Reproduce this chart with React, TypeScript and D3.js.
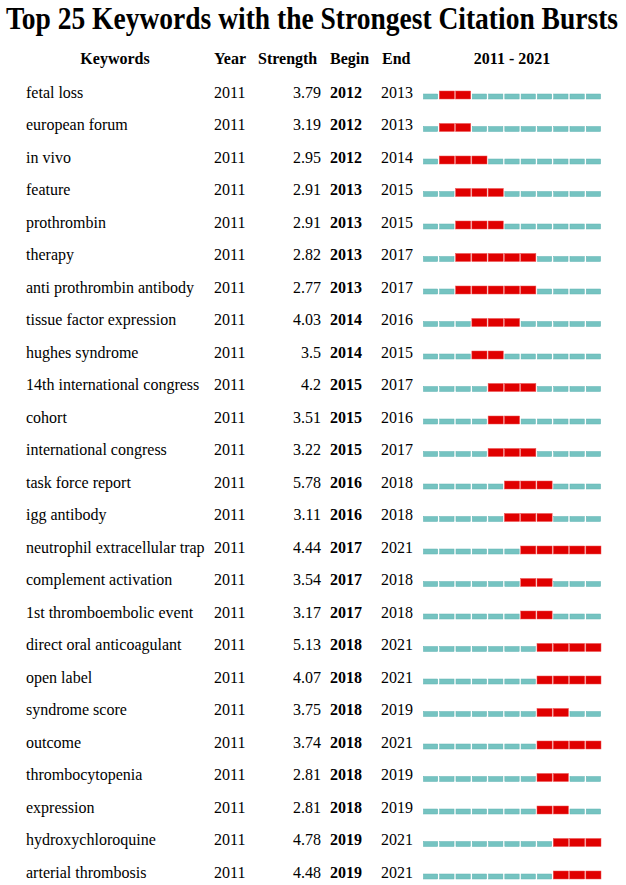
import React, { useEffect, useRef } from "react";
import * as d3 from "d3";

const keywords = [
  "fetal loss", "european forum", "in vivo", "feature", "prothrombin", "therapy",
  "anti prothrombin antibody", "tissue factor expression", "hughes syndrome",
  "14th international congress", "cohort", "international congress", "task force report",
  "igg antibody", "neutrophil extracellular trap", "complement activation",
  "1st thromboembolic event", "direct oral anticoagulant", "open label", "syndrome score",
  "outcome", "thrombocytopenia", "expression", "hydroxychloroquine", "arterial thrombosis",
];
const strength = [
  3.79, 3.19, 2.95, 2.91, 2.91, 2.82, 2.77, 4.03, 3.5, 4.2, 3.51, 3.22, 5.78,
  3.11, 4.44, 3.54, 3.17, 5.13, 4.07, 3.75, 3.74, 2.81, 2.81, 4.78, 4.48,
];
const begin = [
  2012, 2012, 2012, 2013, 2013, 2013, 2013, 2014, 2014, 2015, 2015, 2015, 2016,
  2016, 2017, 2017, 2017, 2018, 2018, 2018, 2018, 2018, 2018, 2019, 2019,
];
const end = [
  2013, 2013, 2014, 2015, 2015, 2017, 2017, 2016, 2015, 2017, 2016, 2017, 2018,
  2018, 2021, 2018, 2018, 2021, 2021, 2019, 2021, 2019, 2019, 2021, 2021,
];
const startYear = 2011;
const years = d3.range(2011, 2022);

export default function App() {
  const ref = useRef<SVGSVGElement>(null);

  useEffect(() => {
    const svg = d3.select(ref.current);
    svg.selectAll("*").remove();

    const font = "'Liberation Serif', 'Times New Roman', serif";

    // title, a bit taller than wide like the source image
    svg.append("g")
      .attr("transform", "translate(6,29) scale(1,1.12)")
      .append("text")
      .attr("x", 0)
      .attr("y", 0)
      .attr("textLength", 612)
      .attr("lengthAdjust", "spacingAndGlyphs")
      .style("font-family", font)
      .style("font-weight", "bold")
      .style("font-size", "27.5px")
      .text("Top 25 Keywords with the Strongest Citation Bursts");

    const y = d3.scalePoint<number>()
      .domain(d3.range(keywords.length))
      .range([97.5, 877.5]);

    const x = d3.scaleBand<number>()
      .domain(years)
      .range([423, 601])
      .paddingInner(0.07);

    // header
    const head = svg.append("g")
      .style("font-family", font)
      .style("font-weight", "bold")
      .style("font-size", "16px");
    const headers = [
      { t: "Keywords", x: 115, a: "middle" },
      { t: "Year", x: 214, a: "start" },
      { t: "Strength", x: 258, a: "start" },
      { t: "Begin", x: 330, a: "start" },
      { t: "End", x: 382, a: "start" },
      { t: "2011 - 2021", x: 512, a: "middle" },
    ];
    head.selectAll("text")
      .data(headers)
      .enter()
      .append("text")
      .attr("x", d => d.x)
      .attr("y", 63.5)
      .attr("text-anchor", d => d.a)
      .text(d => d.t);

    const rows = svg.append("g")
      .style("font-family", font)
      .style("font-size", "16px")
      .selectAll("g")
      .data(keywords)
      .enter()
      .append("g")
      .attr("transform", (d, i) => "translate(0," + y(i) + ")");

    rows.append("text").attr("x", 26).text(d => d);
    rows.append("text").attr("x", 214).text(startYear);
    rows.append("text")
      .attr("x", 321)
      .attr("text-anchor", "end")
      .text((d, i) => strength[i]);
    rows.append("text")
      .attr("x", 330)
      .style("font-weight", "bold")
      .text((d, i) => begin[i]);
    rows.append("text").attr("x", 381).text((d, i) => end[i]);

    rows.each(function (d, i) {
      const g = d3.select(this);
      const on = (yr: number) => yr >= begin[i] && yr <= end[i];
      g.selectAll("rect")
        .data(years)
        .enter()
        .append("rect")
        .attr("x", yr => (on(yr) ? x(yr)! : x(yr)! + 0.4))
        .attr("width", yr => (on(yr) ? x.bandwidth() : x.bandwidth() - 0.8))
        .attr("y", yr => (on(yr) ? -6.5 : -3.5))
        .attr("height", yr => (on(yr) ? 8 : 5))
        .attr("fill", yr => (on(yr) ? "#e00000" : "#75c3c1"))
        .attr("stroke", yr => (on(yr) ? "#ee5050" : "#62b4b3"))
        .attr("stroke-width", 0.5);
    });
  }, []);

  return (
    <svg
      ref={ref}
      width={626}
      height={885}
      style={{ position: "absolute", left: 0, top: 0, background: "#fff" }}
    />
  );
}
